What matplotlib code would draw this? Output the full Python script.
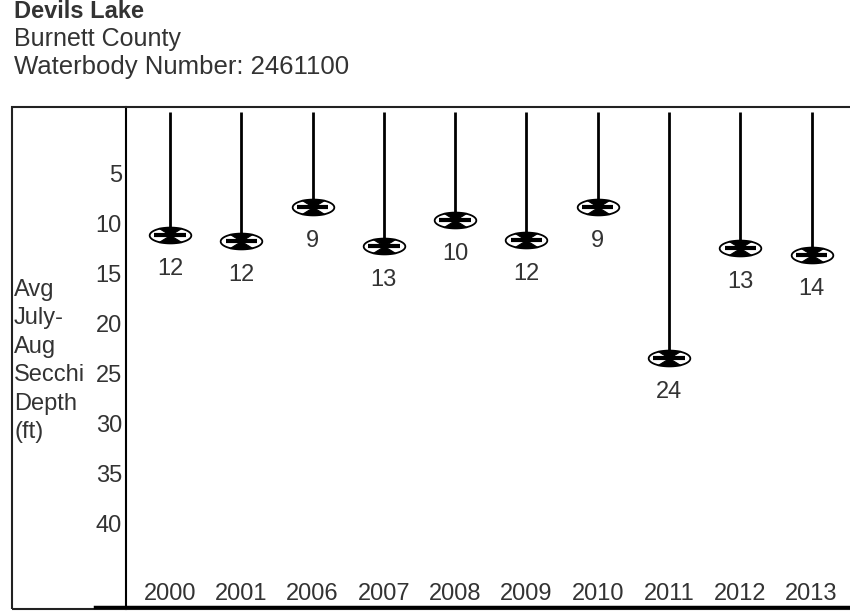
import matplotlib.pyplot as plt
import numpy as np
from matplotlib.path import Path
from matplotlib.patches import Rectangle

plt.rcParams["font.family"] = ["Liberation Sans", "DejaVu Sans"]

# data
years = ["2000", "2001", "2006", "2007", "2008", "2009", "2010", "2011", "2012", "2013"]
depth = [11.2, 11.8, 8.4, 12.3, 9.7, 11.7, 8.4, 23.5, 12.5, 13.2]
labels = [12, 12, 9, 13, 10, 12, 9, 24, 13, 14]
yticks = [5, 10, 15, 20, 25, 30, 35, 40]

W, H = 850, 613
fig = plt.figure(figsize=(W / 100, H / 100), dpi=100)
txt = "#333333"

# header text
fig.text(14 / W, 1 - 12 / H, "Devils Lake", fontsize=17, fontweight="bold",
         color=txt, va="center", ha="left")
fig.text(14 / W, 1 - 39 / H, "Burnett County", fontsize=18, color=txt,
         va="center", ha="left")
fig.text(14 / W, 1 - 67 / H, "Waterbody Number: 2461100", fontsize=18.5,
         color=txt, va="center", ha="left")

# plot area
ax = fig.add_axes([126 / W, (H - 609) / H, (850 - 126) / W, (609 - 107) / H])
ax.set_ylim(48.6, -1.6)
ax.set_xlim(-0.617, 9.54)

x = np.arange(len(years))

# stems
ax.vlines(x, -1.1, depth, color="black", lw=2)

# marker: ellipse outline with a black bow tie inside
t = np.linspace(0, 2 * np.pi, 60)
ell = Path(np.column_stack([np.cos(t), 0.38 * np.sin(t)]), closed=True)
bow = Path([(-0.55, 0.34), (0.55, 0.34), (0.0, 0.0), (-0.55, 0.34),
            (-0.55, -0.34), (0.55, -0.34), (0.0, 0.0), (-0.55, -0.34),
            (-1.0, 0.0)],
           [Path.MOVETO, Path.LINETO, Path.LINETO, Path.CLOSEPOLY,
            Path.MOVETO, Path.LINETO, Path.LINETO, Path.CLOSEPOLY,
            Path.MOVETO])
ax.plot(x, depth, ls="none", marker=ell, ms=30, mfc="white", mec="black", mew=1.3)
ax.plot(x, depth, ls="none", marker=bow, ms=30, mfc="black", mec="black", mew=0.8)
ax.hlines(depth, x - 0.22, x + 0.22, color="black", lw=3)

for xi, d, lab in zip(x, depth, labels):
    ax.text(xi, d + 3.4, str(lab), ha="center", va="center", fontsize=17, color=txt)

for xi, yr in zip(x, years):
    ax.text(xi, 47.1, yr, ha="center", va="center", fontsize=17, color=txt)

ax.set_yticks(yticks)
ax.set_yticklabels([str(v) for v in yticks], fontsize=17, color=txt)
ax.tick_params(axis="y", length=0, pad=3)
ax.set_xticks([])
for s in ["top", "right", "bottom"]:
    ax.spines[s].set_visible(False)
ax.spines["left"].set_linewidth(1.5)

fig.text(14 / W, 1 - 279 / H, "Avg\nJuly-\nAug\nSecchi\nDepth\n(ft)", fontsize=17,
         color=txt, va="top", ha="left", linespacing=1.38)

# outer box
fig.add_artist(Rectangle((12 / W, (H - 609) / H), (852 - 12) / W, (609 - 107) / H,
                         transform=fig.transFigure, fill=False, lw=1.5, ec="#222222"))
fig.add_artist(plt.Line2D([95 / W, 1], [(H - 607) / H] * 2, transform=fig.transFigure,
                          color="black", lw=2.5))

fig.savefig("out.png", dpi=100)
